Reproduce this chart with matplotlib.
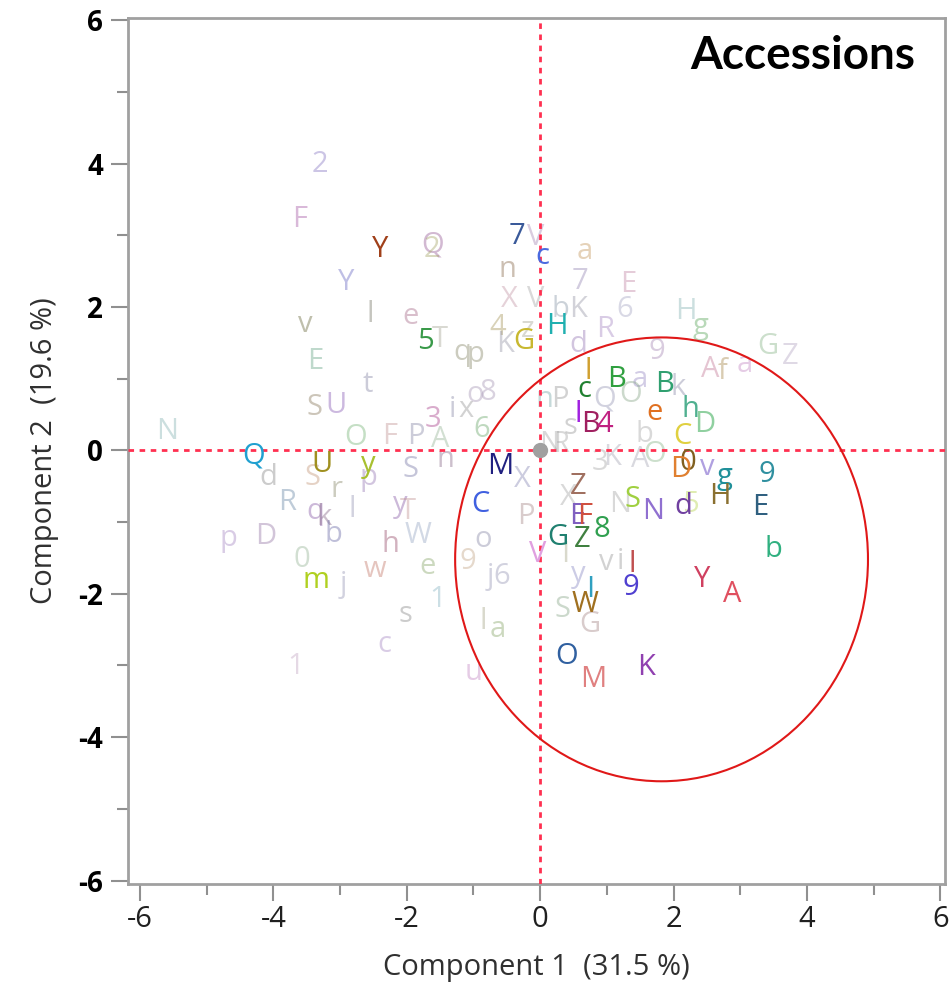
import matplotlib.pyplot as plt
import numpy as np
from matplotlib.patches import Ellipse
from matplotlib.ticker import MultipleLocator

# accessions drawn in strong colour (PC1, PC2 scores)
labels_hi = ["Y", "5", "7", "c", "G", "H", "Q", "U", "y", "m", "M", "C",
             "l", "c", "B", "B", "l", "B", "4", "e", "h", "D", "C", "0",
             "D", "v", "g", "9", "H", "E", "d", "b", "Y", "A", "N", "S",
             "Z", "E", "F", "8", "G", "Z", "V", "9", "l", "W", "I", "O",
             "M", "K"]
pc1_hi = [-2.40, -1.72, -0.34, 0.03, -0.25, 0.25, -4.30, -3.27, -2.58, -3.36, -0.60, -0.90,
          0.72, 0.67, 1.14, 1.86, 0.57, 0.75, 0.97, 1.72, 2.25, 2.47, 2.13, 2.22,
          2.10, 2.50, 2.77, 3.40, 2.70, 3.30, 2.14, 3.49, 2.43, 2.88, 1.69, 1.39,
          0.57, 0.55, 0.66, 0.93, 0.27, 0.63, -0.04, 1.36, 1.38, 0.67, 0.75, 0.40,
          0.79, 1.59]
pc2_hi = [2.80, 1.52, 2.98, 2.71, 1.52, 1.73, -0.08, -0.20, -0.20, -1.81, -0.22, -0.75,
          1.10, 0.85, 0.99, 0.92, 0.50, 0.36, 0.36, 0.53, 0.57, 0.36, 0.20, -0.17,
          -0.26, -0.24, -0.36, -0.33, -0.64, -0.79, -0.78, -1.38, -1.80, -2.01, -0.85, -0.68,
          -0.50, -0.92, -0.92, -1.10, -1.21, -1.24, -1.45, -1.91, -1.59, -2.15, -1.94, -2.87,
          -3.19, -3.03]
colors_hi = ["#a0401a", "#3a9a4a", "#3a5a9a", "#4a6ae0", "#c8b830", "#20b0b0", "#20a0d0", "#a09020",
             "#a8c030", "#b0d020", "#202080", "#4060e0", "#d0a030", "#208030", "#30a040", "#30a070",
             "#a020e0", "#a02060", "#c02080", "#e07020", "#50b090", "#90d0a0", "#e0d040", "#806020",
             "#e08030", "#b0a0e0", "#20909a", "#3090a0", "#8a7030", "#306080", "#7040a0", "#30b080",
             "#d04060", "#e05060", "#9070d0", "#a0d040", "#a07060", "#8060c0", "#d05040", "#30a050",
             "#208070", "#408040", "#e0a0e0", "#5040d0", "#c05050", "#a07020", "#30a0c0", "#3060a0",
             "#e08080", "#9040b0"]

# accessions drawn faded
labels_lo = ["2", "F", "Y", "Q", "2", "v", "l", "e", "E", "t", "S", "U",
             "N", "O", "F", "P", "A", "3", "i", "x", "6", "S", "n", "d",
             "S", "p", "R", "r", "q", "k", "l", "y", "b", "p", "D", "h",
             "W", "T", "0", "j", "w", "e", "9", "o", "j", "6", "1", "s",
             "c", "1", "l", "a", "u", "P", "X", "y", "v", "i", "I", "S",
             "G", "T", "4", "K", "q", "p", "X", "n", "V", "a", "7", "V",
             "z", "K", "b", "R", "E", "6", "d", "9", "a", "Q", "O", "k",
             "H", "g", "G", "Z", "a", "n", "P", "s", "N", "R", "3", "K",
             "A", "O", "b", "X", "N", "8", "o", "5", "A", "f"]
pc1_lo = [-3.30, -3.60, -2.91, -1.62, -1.62, -3.52, -2.55, -1.95, -3.37, -2.59, -3.39, -3.06,
          -5.59, -2.77, -2.25, -1.87, -1.50, -1.60, -1.32, -1.11, -0.87, -1.95, -1.42, -4.08,
          -3.42, -2.58, -3.79, -3.06, -3.37, -3.24, -2.82, -2.10, -3.10, -4.68, -4.12, -2.25,
          -1.83, -1.98, -3.57, -2.95, -2.47, -1.69, -1.09, -0.85, -0.75, -0.57, -1.54, -2.02,
          -2.34, -3.67, -0.85, -0.63, -1.00, -0.22, -0.27, 0.57, 0.99, 1.20, 0.37, 0.33,
          0.75, -1.51, -0.64, -0.52, -1.17, -0.97, -0.46, -0.49, -0.06, 0.67, 0.60, -0.07,
          -0.19, 0.57, 0.30, 0.97, 1.32, 1.27, 0.57, 1.75, 1.50, 0.97, 1.35, 2.07,
          2.19, 2.40, 3.42, 3.75, 3.07, 0.07, 0.30, 0.45, 0.15, 0.30, 0.90, 1.08,
          1.50, 1.72, 1.57, 0.42, 1.20, -0.78, -0.97, 2.25, 2.55, 2.73]
pc2_lo = [3.99, 3.22, 2.34, 2.87, 2.80, 1.76, 1.90, 1.87, 1.24, 0.92, 0.60, 0.63,
          0.26, 0.18, 0.20, 0.20, 0.15, 0.43, 0.57, 0.57, 0.29, -0.26, -0.13, -0.38,
          -0.38, -0.38, -0.73, -0.54, -0.85, -0.93, -0.82, -0.75, -1.17, -1.23, -1.20, -1.31,
          -1.19, -0.85, -1.52, -1.87, -1.66, -1.62, -1.55, -1.24, -1.76, -1.76, -2.08, -2.29,
          -2.71, -3.01, -2.38, -2.50, -3.10, -0.92, -0.40, -1.73, -1.56, -1.55, -1.45, -2.22,
          -2.43, 1.55, 1.72, 1.48, 1.37, 1.34, 2.11, 2.52, 2.97, 2.78, 2.36, 2.11,
          1.69, 1.97, 1.97, 1.69, 2.32, 1.97, 1.48, 1.38, 0.99, 0.71, 0.78, 0.88,
          1.94, 1.73, 1.45, 1.31, 1.20, 0.71, 0.71, 0.33, 0.08, 0.08, -0.17, -0.10,
          -0.13, -0.06, 0.22, -0.66, -0.75, 0.81, 0.78, -0.75, 1.13, 1.10]
colors_lo = ["#8070c0", "#a050a0", "#6060c0", "#905090", "#a0a060", "#606030", "#707060", "#a06080",
             "#60a080", "#8080a0", "#807050", "#8050b0", "#80b0b0", "#70b070", "#c09090", "#8080a0",
             "#90b090", "#a03080", "#8080a0", "#909090", "#60a060", "#7070a0", "#806080", "#808080",
             "#c09070", "#9070b0", "#6080a0", "#808060", "#8050a0", "#806080", "#9090b0", "#8050a0",
             "#6060a0", "#a080c0", "#9070a0", "#904060", "#90a0c0", "#c09090", "#90b090", "#9090b0",
             "#c07060", "#80a060", "#c0a080", "#8080a0", "#9090b0", "#9090b0", "#80b0c0", "#808080",
             "#a080c0", "#c0a0c0", "#a0a080", "#80a060", "#c080c0", "#a08080", "#8080b0", "#8080c0",
             "#909090", "#909090", "#a0a080", "#80a080", "#a08080", "#a0a090", "#a09050", "#9090a0",
             "#808060", "#808060", "#c090a0", "#806040", "#a080b0", "#c09050", "#9080b0", "#a0a0a0",
             "#a0a090", "#9090a0", "#8090a0", "#a080c0", "#c080a0", "#a0a0c0", "#9070b0", "#a080b0",
             "#9080c0", "#9090b0", "#80a080", "#8080a0", "#80b0b0", "#50a050", "#80b080", "#b0a0c0",
             "#c080c0", "#70a0a0", "#909090", "#909090", "#a0a0a0", "#a0a0a0", "#a0a0a0", "#a0a0b0",
             "#a0a0b0", "#80b080", "#a0a0a0", "#a0a0a0", "#a0a0a0", "#a090b0", "#a090b0", "#b0d040",
             "#c07090", "#a08040"]

plt.rcParams['font.family'] = ['Open Sans', 'DejaVu Sans']
plt.rcParams['axes.unicode_minus'] = False

fig = plt.figure(figsize=(9.51, 9.89), dpi=100)
ax = fig.add_axes([0.1346, 0.106, 0.8591, 0.8758])

for s, x, y, c in zip(labels_lo, pc1_lo, pc2_lo, colors_lo):
    ax.text(x, y, s, color=c, alpha=0.4, fontsize=21, ha='center', va='center')

ax.axhline(0, color='#ff3050', lw=2, ls=(0, (2, 2)), zorder=3)
ax.axvline(0, color='#ff3050', lw=2, ls=(0, (2, 2)), zorder=3)
ax.plot(0, 0, 'o', color='#a0a0a0', ms=10, zorder=4)

for s, x, y, c in zip(labels_hi, pc1_hi, pc2_hi, colors_hi):
    ax.text(x, y, s, color=c, fontsize=21, ha='center', va='center', zorder=5)

ax.add_patch(Ellipse((1.82, -1.52), 6.19, 6.19, fill=False, ec='#e01818', lw=1.5, zorder=6))

ax.set_xlim(-6.18, 6.07)
ax.set_ylim(-6.05, 6.03)
ax.xaxis.set_major_locator(MultipleLocator(2))
ax.xaxis.set_minor_locator(MultipleLocator(1))
ax.yaxis.set_major_locator(MultipleLocator(2))
ax.yaxis.set_minor_locator(MultipleLocator(1))
ax.tick_params(which='major', length=12, width=1.5, color='#909090')
ax.tick_params(which='minor', length=8, width=1.5, color='#909090')
ax.tick_params(axis='x', labelsize=21, pad=3, labelcolor='#202020')
ax.tick_params(axis='y', labelsize=20, pad=6)
for lab in ax.get_yticklabels():
    lab.set_fontweight('bold')
for sp in ax.spines.values():
    sp.set_color('#a0a0a0')
    sp.set_linewidth(2)

ax.set_xlabel("Component 1  (31.5 %)", fontsize=21, color='#303030', labelpad=14)
ax.set_ylabel("Component 2  (19.6 %)", fontsize=21, color='#303030', labelpad=14)

ax.text(0.963, 0.956, "Accessions", transform=ax.transAxes, ha='right', va='center',
        fontsize=33, fontweight='bold', family=['Lato', 'DejaVu Sans'], zorder=7)

fig.savefig("out.png", dpi=100)
